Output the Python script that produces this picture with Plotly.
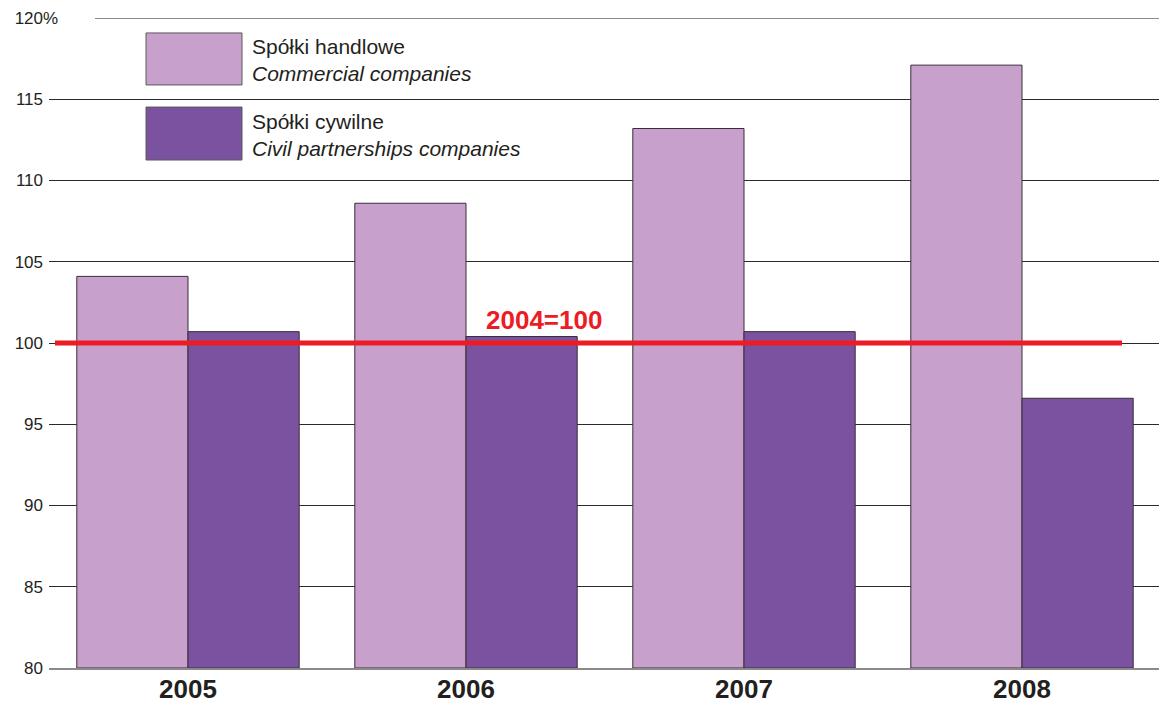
import plotly.graph_objects as go

years = ["2005", "2006", "2007", "2008"]
commercial = [104.1, 108.6, 113.2, 117.1]
civil = [100.7, 100.4, 100.7, 96.6]
series_pl = ["Spółki handlowe", "Spółki cywilne"]
series_en = ["Commercial companies", "Civil partnerships companies"]
colors = ["#c7a0cb", "#7b52a0"]
y_ticks = [80, 85, 90, 95, 100, 105, 110, 115, 120]
y_ticktext = ["80", "85", "90", "95", "100", "105", "110", "115", "120"]
base_year_label = "2004=100"
base_value = 100
y_min = 80

TXT = "#231f20"
FONT = "Liberation Sans, Arial, sans-serif"

fig = go.Figure()
for vals, name, col in [(commercial, series_pl[0], colors[0]), (civil, series_pl[1], colors[1])]:
    fig.add_trace(go.Bar(
        x=years, y=[v - y_min for v in vals], base=y_min, name=name, marker_color=col,
        marker_line_color="#3a2d3a", marker_line_width=1, showlegend=False,
    ))

W, H = 1159, 702
ml, mr, mt, mb = 49, 0, 18, 34
pw = W - ml - mr
cat_px = 278.0

fig.update_layout(
    width=W, height=H,
    margin=dict(l=ml, r=mr, t=mt, b=mb, autoexpand=False),
    paper_bgcolor="white", plot_bgcolor="white",
    barmode="group", bargap=0.2, bargroupgap=0,
    font=dict(family=FONT, color=TXT),
    xaxis=dict(
        type="category", range=[-0.5, -0.5 + pw / cat_px], automargin=False,
        showgrid=False, showline=True, linecolor="#8a8a8a", linewidth=2,
        ticks="", tickfont=dict(size=26, family=FONT, color=TXT, weight="bold"),
        ticklabelstandoff=-3,
    ),
    yaxis=dict(
        range=[80, 120], tickvals=y_ticks, ticktext=y_ticktext, automargin=False,
        showgrid=True, gridcolor="#2b2b2b", gridwidth=1,
        zeroline=False, showline=False, ticks="",
        tickfont=dict(size=17, family=FONT, color=TXT),
        ticklabelstandoff=5,
    ),
)

# top gridline: gray, starting after "120%"
fig.add_shape(type="line", xref="paper", yref="y", x0=0, x1=1, y0=120, y1=120,
              line=dict(color="white", width=3), layer="above")
fig.add_shape(type="line", xref="paper", yref="y", x0=(95 - ml) / pw, x1=1, y0=120, y1=120,
              line=dict(color="#8a8a8a", width=2), layer="above")
fig.add_annotation(text="%", xref="paper", yref="y", x=(41 - ml) / pw, y=120,
                   xanchor="left", yanchor="middle", showarrow=False,
                   font=dict(size=17, family=FONT, color=TXT))

# base line
fig.add_shape(type="line", xref="paper", yref="y", x0=(55 - ml) / pw, x1=(1122 - ml) / pw,
              y0=base_value, y1=base_value, line=dict(color="#ed1c24", width=5), layer="above")
fig.add_annotation(text="<b>" + base_year_label + "</b>", xref="x", yref="y",
                   x=1.28, y=base_value, yanchor="bottom", yshift=6, showarrow=False,
                   font=dict(size=26, family=FONT, color="#ed1c24"))

# legend
boxes = [(119.08, 115.88), (114.52, 111.26)]
for (ytop, ybot), col, pl, en in zip(boxes, colors, series_pl, series_en):
    fig.add_shape(type="rect", xref="paper", yref="y",
                  x0=(146 - ml) / pw, x1=(242 - ml) / pw, y0=ybot, y1=ytop,
                  fillcolor=col, line=dict(color="#5a5a5a", width=1), layer="above")
    fig.add_annotation(text=pl + "<br><i>" + en + "</i>", xref="paper", yref="y",
                       x=(250 - ml) / pw, y=(ytop + ybot) / 2, yshift=-1, xanchor="left",
                       yanchor="middle", align="left", showarrow=False,
                       font=dict(size=21, family=FONT, color=TXT))

fig.write_html("out.html", config={"displayModeBar": False},
               post_script="document.body.style.margin='0';")
